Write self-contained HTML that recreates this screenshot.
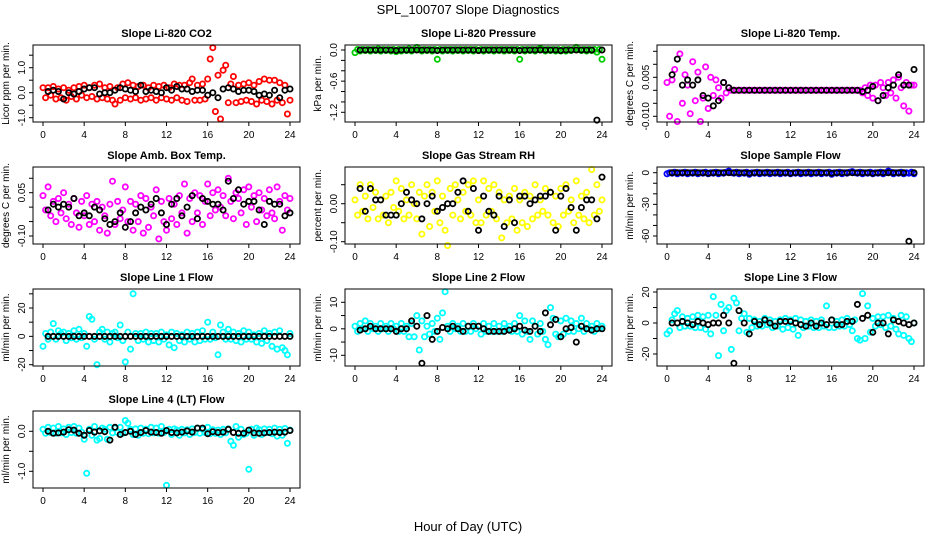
<!DOCTYPE html>
<html><head><meta charset="utf-8">
<style>
html,body{margin:0;padding:0;background:#fff;}
svg{display:block;font-family:"Liberation Sans",sans-serif;}
</style></head>
<body>
<svg id="chart" width="936" height="540" viewBox="0 0 936 540" xmlns="http://www.w3.org/2000/svg">
<rect x="0" y="0" width="936" height="540" fill="#fff"/>
<text x="468" y="14" font-size="13" text-anchor="middle">SPL_100707  Slope Diagnostics</text>
<text x="468" y="531" font-size="13" text-anchor="middle">Hour of Day (UTC)</text>
</svg>
<script>
// hours for colored (all-data) points and black (hourly mean) points
const hoursColor = [];
for (let i = 0; i <= 96; i++) hoursColor.push(i / 4);
const hoursBlack = [];
for (let i = 1; i <= 48; i++) hoursBlack.push(i / 2);
const xTicks = [0, 4, 8, 12, 16, 20, 24];

// ---- CO2 (ppm/min)
const co2Color = [0.2,-0.2,0.2,-0.1, 0.25,-0.25,0.15,-0.2, 0.2,-0.3,0.1,-0.15, 0.2,-0.25,0.25,-0.1, 0.3,-0.2,0.2,-0.15, 0.3,-0.25,0.35,-0.2, 0.2,-0.25,0.25,-0.3, -0.45,0.2,-0.3,0.35, -0.2,0.4,-0.25,0.3, -0.2,0.25,-0.3,0.3, -0.25,0.2,-0.2,0.3, -0.3,0.25,-0.2,0.3, -0.25,0.2,-0.3,0.35, -0.2,0.3,-0.3,0.3, -0.35,0.4,0.55,-0.3, 0.3,-0.3,0.35,-0.25, 0.55,1.35,1.8,-0.75, 0.7,-1.05,0.9,1.1, -0.4,0.35,0.65,-0.4, 0.3,-0.35,0.35,-0.3, 0.4,-0.35,0.3,-0.45, 0.45,-0.3,0.55,-0.35, 0.5,-0.45,0.5,-0.3, 0.4,-0.4,0.3,-0.85, -0.3];
const co2Black = [0.05,0.1,0.05,-0.25,0,-0.05,0.05,0.15,0.2,0.2,-0.05,0,0,0.1,0.2,0.15,0.1,0.05,0.3,0.05,0.1,0.05,0,0.2,0.1,0.25,0.15,0.15,0.05,0.1,0.1,-0.1,0,-0.2,0.15,0.2,0.15,0.05,0.1,0.1,0.05,-0.1,-0.05,-0.1,0.1,-0.2,0.1,0.15];

// ---- Pressure (kPa/min)
const presColor = [-0.05,0.01,-0.02,0.01, -0.01,0.01,-0.02,0.01, -0.01,0.02,-0.02,0.01, -0.01,0.01,-0.02,0.01, -0.03,0.01,-0.02,0.01, -0.01,0.02,-0.02,0.01, 0.05,0.01,-0.02,0.01, -0.01,0.01,-0.02,0.01, -0.18,0.01,-0.02,0.01, -0.01,0.01,-0.02,0.01, -0.01,0.01,-0.02,0.01, -0.01,0.01,-0.02,0.01, -0.01,0.01,-0.02,0.01, -0.01,0.01,-0.02,0.01, -0.01,0.01,-0.02,0.01, -0.01,0.01,-0.02,0.01, -0.18,0.01,-0.02,0.01, -0.01,0.01,-0.02,0.01, 0.03,0.01,-0.02,0.01, -0.01,0.01,-0.02,0.01, -0.02,0.01,-0.02,0.01, -0.01,0.01,0.05,0.01, -0.01,0.01,-0.02,0.01, -0.01,0.01,-0.04,0.01, -0.18];
const presBlack = [0,0,0,0,0,0,0,-0.01,0,0,0,0,0,0,0,-0.01,0,0,0,0,0,0,0,-0.01,0,0,0,0,0,0,0,-0.01,0,0,0,0,0,0,0,-0.01,0,0,0,0,0,0,-1.35,0];

// ---- Li-820 Temp (degC/min)
const tempColor = [0.003,-0.010,0.004,0.008, -0.012,0.014,-0.005,0.006, 0.002,-0.009,0.011,-0.004, 0.007,-0.012,-0.003,0.009, -0.007,0.005,-0.002,0.004, 0.001,-0.003,0.003,-0.001, 0.001,0,0,0, 0,0,0,0, 0,0,0,0, 0,0,0,0, 0,0,0,0, 0,0,0,0, 0,0,0,0, 0,0,0,0, 0,0,0,0, 0,0,0,0, 0,0,0,0, 0,0,0,0, 0,0,0,0, -0.001,0.001,-0.002,0.002, -0.003,0.002,-0.004,0.003, 0.001,-0.002,0.003,-0.001, 0.004,-0.003,0.005,0.001, -0.006,0.003,-0.008,0.002, 0.002];
const tempBlack = [0.006,0.012,0.002,0.004,0.002,0.004,-0.002,-0.003,-0.006,-0.004,0.003,0.001,0,0,0,0,0,0,0,0,0,0,0,0,0,0,0,0,0,0,0,0,0,0,0,0,0,-0.0005,0,0.0015,-0.004,-0.002,0.001,0.002,0.006,0.002,0.002,0.008];

// ---- Amb. Box Temp (units of 0.01 degC/min)
const ambColor = [4,-1,7,-3, 2,-5,3,-2, 5,-4,1,-6, 3,-2,-7,2, -3,4,-6,1, -5,2,-8,0, -3,-9,1,9, -6,2,-4,-1, 7,-5,2,-8, 1,-5,4,-9, 3,-7,0,-3, 6,-11,2,-5, -8,3,-4,1, -6,4,-2,8, -9,3,-5,5, -2,4,-6,2, 8,-3,5,-1, 6,0,4,-3, 10,2,-4,5, 3,-2,6,-6, 7,0,4,-5, 5,-1,3,-3, 6,-2,-4,7, 2,-8,4,-1, 3];
const ambBlack = [-1,1,0,1,0,3,-3,-2,-3,0,-1,-4,-6,-5,-2,-7,-5,-2,0,-1,1,3,-2,-6,1,3,-3,0,4,-4,3,2,1,1,-1,9,3,6,1,2,2,-1,-6,2,1,1,-3,-2];

// ---- Gas Stream RH (units of 0.01 %/min)
const rhColor = [1,-3,5,-2, 2,-4,5,-1, 3,-4,1,-3, 2,-5,3,-1, 6,-2,4,-4, 1,-3,5,0, -4,3,-8,2, 5,-6,3,-2, 6,-5,2,-7, -11,4,-3,5, 1,-4,3,-2, 5,-3,6,-5, 1,-5,6,-3, 4,-2,5,-4, 3,-9,1,-5, 2,-4,4,-7, 1,-5,3,-6, 2,-4,5,-3, 1,-2,4,-3, 3,-5,2,-6, 4,-3,5,-2, 1,-5,6,-3, 2,-4,3,-5, 9,-3,5,-2, 1];
const rhBlack = [4,-2,4,1,1,-3,-3,-3,0,3,1,0,-4,0,2,-2,-1,0,0,3,6,-2,4,-7,2,-2,-3,2,-6,1,-5,2,2,0,1,2,2,3,-7,2,4,-1,-7,-1,1,1,-4,7];

// ---- Sample Flow (ml/min per min)
const sampColor = [-1,0,-0.5,0.5, -1,0,-0.5,0.5, -1,0,-0.5,0.5, -1,0,-0.5,0.5, -1,0,-0.5,0.5, -1,0,-0.5,0.5, 1.5,0,-0.5,0.5, -1,0,-0.5,0.5, -1.5,0,-0.5,0.5, -1,0,-0.5,0.5, -1,0,-0.5,0.5, -1,0,-0.5,0.5, -1,0,-0.5,0.5, -1,0,-0.5,0.5, -1,0,-0.5,0.5, -1,0,-0.5,0.5, -1.5,0,-0.5,0.5, -1,0,-0.5,0.5, 1,0,-0.5,0.5, -1,0,-0.5,0.5, -1,0,-0.5,0.5, -1,0,1.5,0.5, -1,0,-0.5,0.5, -1,0,-0.5,0.5, -1];
const sampBlack = [0,0,0,0,0,0,0,-0.5,0,0,0,0,0,0,0,-0.5,0,0,0,0,0,0,0,-0.5,0,0,0,0,0,0,0,-0.5,0,0,0,0,0,0,0,-0.5,0,0,0,0,0,0,-65,0];

// ---- Line 1 Flow
const l1Color = [-7,2,-2,3, 9,-2,4,2, 3,-3,2,-1, 4,-2,5,-1, 2,-7,14,12, -2,-20,3,5, -2,3,-4,2, 3,-1,8,-3, -18,3,-9,30, 2,-3,2,-2, 3,-4,2,-3, 2,-4,3,-2, 1,-6,3,-8, 2,-3,1,-4, 3,-2,2,-4, 3,-3,4,-2, 10,-2,3,-1, -13,8,3,-2, 5,-2,3,-3, 2,-4,4,-2, 3,-2,1,-4, 2,-5,4,-3, 2,-7,3,-9, 4,-8,-10,-13, 2];
const l1Black = [0,0,0,0,0,0,0,0,0,0,0,0,0,0,0,0,0,0,0,0,0,0,0,0,0,0,0,0,0,0,0,0,0,0,0,0,0,0,0,0,0,0,0,0,0,0,0,0];

// ---- Line 2 Flow
const l2Color = [1,-1,2,0, 3,-1,2,0, 1,-1,2,0, 1,-1,2,0, 1,-1,2,-1, 1,-3,2,-3, 5,-8,3,-3, 1,-2,2,-1, 4,-4,6,14, 1,-1,2,0, 1,-1,2,-1, 1,-1,2,0, 1,-2,2,-1, 1,-1,2,-1, 1,-1,2,0, 1,-1,2,-1, 5,-2,3,-1, -4,3,1,-2, 2,-1,-4,-6, 8,4,-2,-3, 3,-2,4,-1, 3,-1,2,0, 4,-1,2,0, 1,-1,2,0, 1];
const l2Black = [-0.5,0,1,0,0,0,0,-1,0,0,3,1,-13,5,-4,-1,0.5,0,1,0,-1,1,1,1,0,-1,-1,-1,-1,-0.5,0,1,-0.5,-1,1,-1,6,1.5,3.5,-3,0,0.5,-5,1,0,-0.5,0,0];

// ---- Line 3 Flow
const l3Color = [-7,-5,2,6, 8,-3,4,-2, 3,-2,4,-3, 5,-3,4,-4, 5,-7,17,5, -21,12,-5,8, 10,-17,16,13, -5,3,6,-6, 3,-3,2,-2, 1,-2,3,-1, 2,-3,1,-2, 2,-4,3,-3, 2,-4,3,-8, 2,-3,1,-2, 2,-3,1,-3, 2,-2,11,-3, 2,-3,1,-2, 2,-2,3,-1, -5,2,-10,-11, 19,-10,11,-6, 3,-2,4,-1, 4,-3,5,-2, 3,-4,-7,5, -8,4,-10,-12, 0];
const l3Black = [0,0,1,0,-1,1,0,-1,0,0,5,0,-26,8,0,-7,1,-1,2,0,-2,1,1,1,0,-1,-2,0,-2,0,-1,2,-1,-1,1,1,12,3,5,-6,0,0,-7,2,1,0,-1,0];

// ---- Line 4 (LT) Flow (units of 0.01)
const l4Color = [5,-5,10,-3, 8,-5,12,-4, 6,-8,10,-3, 12,-5,8,-2, -20,-105,5,-10, 12,-22,-18,8, 5,-20,10,-4, 8,-3,10,-5, 27,20,5,-8, 6,-10,8,-5, 5,-6,10,-4, 8,-5,12,-3, -135,5,-8,6, 3,-10,5,-4, 4,-8,6,-3, 8,-5,5,-3, 10,-6,4,-5, 3,-8,5,-4, 6,-25,-35,12, -15,5,-8,-5, -95,5,-10,8, 4,-8,6,-3, 5,-6,8,-12, 5,-10,7,-30, 3];
const l4Black = [0,-5,-4,-2,4,3,-5,-10,2,-2,1,-1,-22,10,-8,-3,0,-8,-3,2,-2,-3,-5,2,-3,-4,-2,1,-2,8,8,-6,-1,-3,-2,5,-3,-5,-5,3,-4,-5,-4,-3,-2,-3,-2,2];

const panels = [
 {id:'co2', title:'Slope Li-820 CO2', ylab:'Licor ppm per min.', col:0,row:0, color:'#ff0000', unit:1, c:co2Color, b:co2Black, v0:0,p0:92.7,v1:1,p1:67.7, ticks:[-1,-0.5,0,0.5,1,1.5], labels:[[-1,'-1.0'],[0,'0.0'],[1,'1.0']]},
 {id:'pressure', title:'Slope Li-820 Pressure', ylab:'kPa per min.', col:1,row:0, color:'#00cd00', unit:1, c:presColor, b:presBlack, v0:0,p0:50,v1:-1.2,p1:112.3, ticks:[0,-0.2,-0.4,-0.6,-0.8,-1.0,-1.2], labels:[[0,'0.0'],[-0.6,'-0.6'],[-1.2,'-1.2']]},
 {id:'temp', title:'Slope Li-820 Temp.', ylab:'degrees C per min.', col:2,row:0, color:'#ff00ff', unit:1, c:tempColor, b:tempBlack, v0:0,p0:90.3,v1:0.005,p1:77.3, ticks:[-0.01,-0.005,0,0.005,0.01,0.015], labels:[[-0.01,'-0.010'],[0.005,'0.005']]},
 {id:'amb-box', title:'Slope Amb. Box Temp.', ylab:'degrees C per min.', col:0,row:1, color:'#ff00ff', unit:0.01, c:ambColor, b:ambBlack, v0:0.05,p0:192.7,v1:-0.1,p1:236, ticks:[-0.1,-0.05,0,0.05,0.1], labels:[[-0.1,'-0.10'],[0.05,'0.05']]},
 {id:'gas-rh', title:'Slope Gas Stream RH', ylab:'percent per min.', col:1,row:1, color:'#ffff00', unit:0.01, c:rhColor, b:rhBlack, v0:0,p0:203.7,v1:-0.1,p1:241.7, ticks:[-0.1,-0.05,0,0.05], labels:[[-0.1,'-0.10'],[0,'0.00']]},
 {id:'sample-flow', title:'Slope Sample Flow', ylab:'ml/min per min.', col:2,row:1, color:'#0000ff', unit:1, c:sampColor, b:sampBlack, v0:0,p0:172.7,v1:-60,p1:236, ticks:[0,-10,-20,-30,-40,-50,-60], labels:[[0,'0'],[-30,'-30'],[-60,'-60']]},
 {id:'line1', title:'Slope Line 1 Flow', ylab:'ml/min per min.', col:0,row:2, color:'#00ffff', unit:1, c:l1Color, b:l1Black, v0:20,p0:308,v1:-20,p1:364.7, ticks:[-20,-10,0,10,20,30], labels:[[-20,'-20'],[0,'0'],[20,'20']]},
 {id:'line2', title:'Slope Line 2 Flow', ylab:'ml/min per min.', col:1,row:2, color:'#00ffff', unit:1, c:l2Color, b:l2Black, v0:10,p0:302.3,v1:-10,p1:355.3, ticks:[-10,-5,0,5,10], labels:[[-10,'-10'],[0,'0'],[10,'10']]},
 {id:'line3', title:'Slope Line 3 Flow', ylab:'ml/min per min.', col:2,row:2, color:'#00ffff', unit:1, c:l3Color, b:l3Black, v0:20,p0:292,v1:-20,p1:354, ticks:[-20,-10,0,10,20], labels:[[-20,'-20'],[0,'0'],[20,'20']]},
 {id:'line4', title:'Slope Line 4 (LT) Flow', ylab:'ml/min per min.', col:0,row:3, color:'#00ffff', unit:0.01, c:l4Color, b:l4Black, v0:0,p0:431.3,v1:-1,p1:471.3, ticks:[0,-0.5,-1], labels:[[0,'0.0'],[-1,'-1.0']]}
];

const NS = 'http://www.w3.org/2000/svg';
const svg = document.getElementById('chart');
function mk(tag, attrs, parent) {
  const e = document.createElementNS(NS, tag);
  for (const k in attrs) e.setAttribute(k, attrs[k]);
  parent.appendChild(e);
  return e;
}
const colLeft = [33, 345, 657];
const rowTop = [45, 167, 289, 411];
const boxW = 267, boxH = 77;

panels.forEach(p => {
  const L = colLeft[p.col], T = rowTop[p.row], B = T + boxH;
  const xs = h => L + 10 + h * (247 / 24);
  const ys = v => p.p0 + (v - p.v0) * (p.p1 - p.p0) / (p.v1 - p.v0);
  const g = mk('g', {}, svg);
  
  

  const t = mk('text', {x: L + boxW / 2, y: T - 8, 'font-size': 11, 'font-weight': 'bold', 'text-anchor': 'middle'}, g);
  t.textContent = p.title;
  
  

  const yl = mk('text', {x: 0, y: 0, 'font-size': 10, 'text-anchor': 'middle', transform: 'translate(' + (L - 24) + ',' + (T + boxH / 2) + ') rotate(-90)'}, g);
  yl.textContent = p.ylab;
  
  

  const pts = mk('g', {fill: 'none', 'stroke-width': 1.8}, g);
  
  
  p.c.forEach((v, i) => {
    const c = mk('circle', {cx: xs(hoursColor[i]).toFixed(1), cy: ys(v * p.unit).toFixed(1), r: 2.6, stroke: p.color}, pts);
    
    
  });
  p.b.forEach((v, i) => {
    const c = mk('circle', {cx: xs(hoursBlack[i]).toFixed(1), cy: ys(v * p.unit).toFixed(1), r: 2.6, stroke: '#000'}, pts);
    
    
  });

  const box = mk('rect', {x: L, y: T, width: boxW, height: boxH, fill: 'none', stroke: '#000', 'stroke-width': 1}, g);
  
  

  xTicks.forEach(h => {
    mk('line', {x1: xs(h), x2: xs(h), y1: B, y2: B + 4, stroke: '#000'}, g);
    const tl = mk('text', {x: xs(h), y: B + 16, 'font-size': 10, 'text-anchor': 'middle'}, g);
    tl.textContent = h;
    
    
  });
  p.ticks.forEach(v => {
    mk('line', {x1: L - 4, x2: L, y1: ys(v), y2: ys(v), stroke: '#000'}, g);
  });
  p.labels.forEach(([v, s]) => {
    const tl = mk('text', {x: 0, y: 0, 'font-size': 10, 'text-anchor': 'middle', transform: 'translate(' + (L - 8) + ',' + ys(v) + ') rotate(-90)'}, g);
    tl.textContent = s;
    
    
  });
});
</script>
</body></html>
